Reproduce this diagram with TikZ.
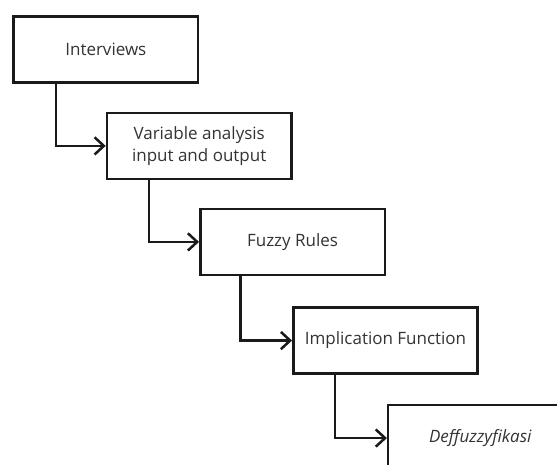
\documentclass[tikz,border=0pt]{standalone}
\usepackage{fontspec}
\setsansfont{Open Sans}
\usepackage{xcolor}
\usepackage{tikz}
\usetikzlibrary{arrows.meta,positioning}
\definecolor{fuzzyline}{HTML}{1A1A1A}
\definecolor{fuzzytext}{HTML}{333333}

\begin{document}
\begin{tikzpicture}[
  font=\sffamily\fontsize{12.8}{16.5}\selectfont,
  stage/.style={draw=fuzzyline,line width=1.9pt,fill=white,align=center,text=fuzzytext,
    minimum width=4.88cm,minimum height=1.75cm,inner sep=0pt},
  flow/.style={line width=1.9pt,fuzzyline,-{Straight Barb[length=7pt,width=13pt,line width=1.9pt]}}
]
\useasboundingbox (0,0) rectangle (14.737,-12.277);
\node[stage] (interviews) at (2.80,-1.31) {Interviews};
\node[stage] (variables) at (5.27,-3.86) {Variable analysis\\input and output};
\node[stage] (rules) at (7.74,-6.40) {Fuzzy Rules};
\node[stage] (implication) at (10.20,-9.01) {Implication Function};
\node[stage] (defuzz) at (12.71,-11.59) {\textit{Deffuzzyfikasi}};
\draw[flow] (interviews.south west) ++(1.16,0) |- (variables.west);
\draw[flow] (variables.south west) ++(1.14,0) |- (rules.west);
\draw[flow] (rules.south west) ++(1.09,0) |- (implication.west);
\draw[flow] (implication.south west) ++(1.14,0) |- (defuzz.west);
\end{tikzpicture}
\end{document}
